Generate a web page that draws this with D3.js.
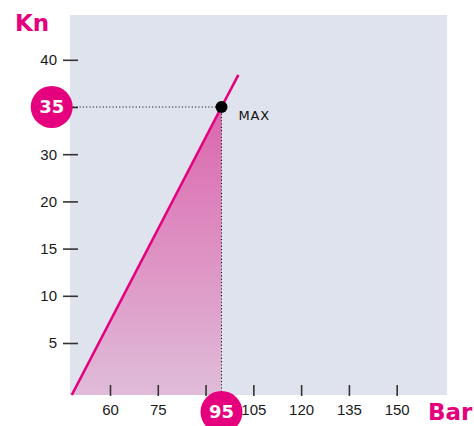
<!DOCTYPE html>
<html>
<head>
<meta charset="utf-8">
<script src="https://cdn.jsdelivr.net/npm/d3@7/dist/d3.min.js"></script>
<style>
  html, body { margin: 0; padding: 0; background: #ffffff; }
  svg { display: block; }
</style>
</head>
<body>
<script>
// Pump curve: force (Kn) against pressure (Bar)
const yTickValues = [5, 10, 15, 20, 30, 35, 40];
const xTickValues = [60, 75, 90, 105, 120, 135, 150];
const curveBar = [48, 95, 100.3];
const curveKn = [0, 35, 38.4];
const maxBar = 95;
const maxKn = 35;

const W = 474, H = 426;
const plot = { left: 70, right: 447, top: 15, bottom: 395 };
const magenta = "#e5007e";

const svg = d3.select("body").append("svg").attr("width", W).attr("height", H);

// Kn axis labels are evenly spaced even though the values are not,
// so the scale is piecewise linear over the tick values.
const yStep = 47.2;
const yFirst = 343;
const y = d3.scaleLinear()
  .domain([0, ...yTickValues])
  .range([plot.bottom, ...yTickValues.map((_, i) => yFirst - i * yStep)]);

const x = d3.scaleLinear()
  .domain([60, 150])
  .range([110, 396.7]);

// plot background
svg.append("rect")
  .attr("x", plot.left).attr("y", plot.top)
  .attr("width", plot.right - plot.left).attr("height", plot.bottom - plot.top)
  .attr("fill", "#dfe3ee");

// gradient for the area under the curve
const defs = svg.append("defs");
const grad = defs.append("linearGradient")
  .attr("id", "fillGrad")
  .attr("gradientUnits", "userSpaceOnUse")
  .attr("x1", 0).attr("x2", 0)
  .attr("y1", y(maxKn)).attr("y2", plot.bottom);
grad.append("stop").attr("offset", 0).attr("stop-color", "#db66ad");
grad.append("stop").attr("offset", 1).attr("stop-color", "#e0bcd9");

const curve = curveBar.map((b, i) => ({ bar: b, kn: curveKn[i] }));
const underMax = curve.filter(d => d.bar <= maxBar);

svg.append("path")
  .datum(underMax)
  .attr("fill", "url(#fillGrad)")
  .attr("d", d3.area().x(d => x(d.bar)).y0(y(0)).y1(d => y(d.kn)));

// axes
const fontAxis = "'Liberation Sans Narrow', 'Liberation Sans', Arial, sans-serif";

const yAxis = svg.append("g")
  .attr("transform", `translate(78,0)`)
  .call(d3.axisLeft(y).tickValues(yTickValues).tickSize(15).tickPadding(6)
    .tickFormat(d => d === maxKn ? "" : d));
yAxis.select(".domain").remove();
yAxis.selectAll("line").attr("stroke", "#333").attr("stroke-width", 1.6);
yAxis.selectAll("text").attr("fill", "#1a1a1a").style("font-family", fontAxis).style("font-size", "15px");

const xAxis = svg.append("g")
  .attr("transform", `translate(0,${plot.bottom + 1})`)
  .call(d3.axisBottom(x).tickValues(xTickValues).tickSize(-11).tickPadding(8)
    .tickFormat(d => d === 90 ? "" : d));
xAxis.select(".domain").remove();
xAxis.selectAll("line").attr("stroke", "#333").attr("stroke-width", 1.6);
xAxis.selectAll("text").attr("fill", "#1a1a1a").style("font-family", fontAxis).style("font-size", "15px");

// dotted guides to the maximum point
svg.append("line")
  .attr("x1", 73).attr("x2", x(maxBar))
  .attr("y1", y(maxKn)).attr("y2", y(maxKn))
  .attr("stroke", "#111").attr("stroke-width", 1.1).attr("stroke-dasharray", "1.1,2.2");
svg.append("line")
  .attr("x1", x(maxBar)).attr("x2", x(maxBar))
  .attr("y1", y(maxKn)).attr("y2", plot.bottom)
  .attr("stroke", "#111").attr("stroke-width", 1.1).attr("stroke-dasharray", "1.1,2.2");

// curve
svg.append("path")
  .datum(curve)
  .attr("fill", "none")
  .attr("stroke", magenta)
  .attr("stroke-width", 2.6)
  .attr("d", d3.line().x(d => x(d.bar)).y(d => y(d.kn)));

// maximum point
svg.append("circle")
  .attr("cx", x(maxBar)).attr("cy", y(maxKn)).attr("r", 6)
  .attr("fill", "#000");

svg.append("text")
  .attr("x", x(maxBar) + 17).attr("y", y(maxKn) + 12.5)
  .style("font-family", "'DejaVu Sans', sans-serif")
  .style("font-size", "13px")
  .style("letter-spacing", "0.8px")
  .attr("fill", "#111")
  .text("MAX");

// value callouts
const fontBold = "'DejaVu Sans', sans-serif";
function callout(cx, cy, label) {
  svg.append("circle").attr("cx", cx).attr("cy", cy).attr("r", 21)
    .attr("fill", magenta);
  svg.append("text").attr("x", cx).attr("y", cy)
    .attr("text-anchor", "middle").attr("dy", "0.36em")
    .style("font-family", fontBold).style("font-weight", "bold").style("font-size", "18px")
    .attr("fill", "#fff").text(label);
}
callout(51.7, y(maxKn), maxKn);
callout(x(maxBar), 412, maxBar);

// axis titles
svg.append("text").attr("x", 15).attr("y", 31)
  .style("font-family", fontBold).style("font-weight", "bold").style("font-size", "23px")
  .attr("fill", magenta).text("Kn");
svg.append("text").attr("x", 428).attr("y", 420)
  .style("font-family", fontBold).style("font-weight", "bold").style("font-size", "23px")
  .attr("fill", magenta).text("Bar");
</script>
</body>
</html>
